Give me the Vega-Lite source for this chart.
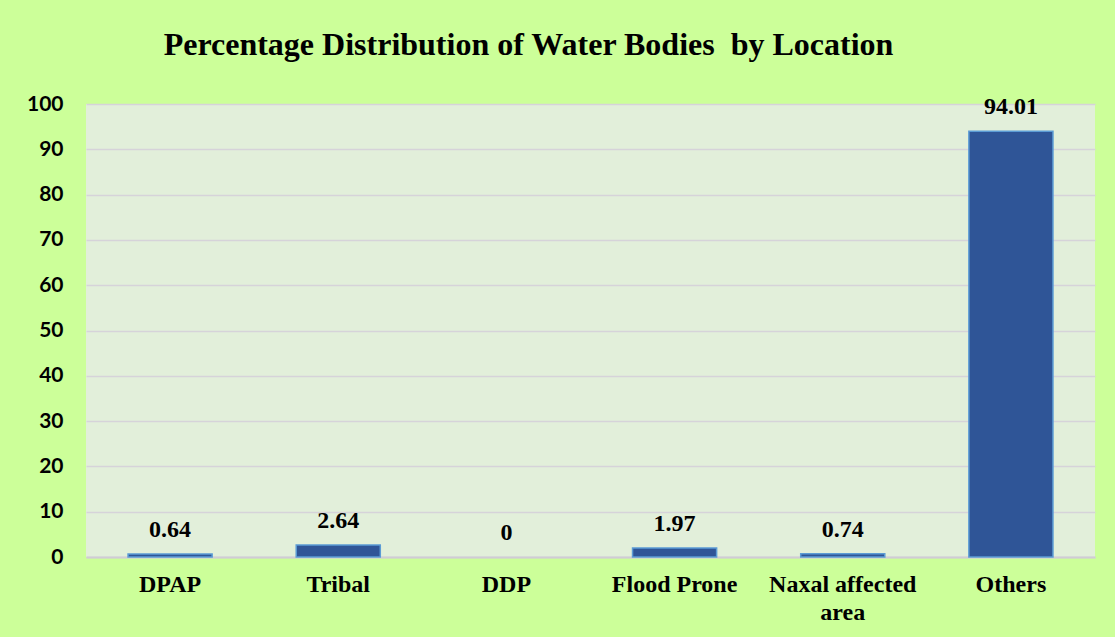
{
  "$schema": "https://vega.github.io/schema/vega-lite/v6.json",
  "autosize": {"type": "none"},
  "width": 1009,
  "height": 453,
  "padding": {"left": 86, "top": 104, "right": 20, "bottom": 80},
  "background": "#CCFF99",
  "title": {
    "text": "Percentage Distribution of Water Bodies\u00a0\u00a0by Location",
    "font": "Liberation Serif",
    "fontSize": 32,
    "fontWeight": "bold",
    "color": "#000000",
    "anchor": "middle",
    "dx": -62,
    "offset": 31
  },
  "data": {
    "values": [
      {"location": "DPAP", "percent": 0.64},
      {"location": "Tribal", "percent": 2.64},
      {"location": "DDP", "percent": 0},
      {"location": "Flood Prone", "percent": 1.97},
      {"location": "Naxal affected area", "percent": 0.74},
      {"location": "Others", "percent": 94.01}
    ]
  },
  "encoding": {
    "x": {
      "field": "location",
      "type": "nominal",
      "sort": null,
      "scale": {"paddingInner": 0.5, "paddingOuter": 0.25},
      "axis": {
        "title": null,
        "labelAngle": 0,
        "labelFont": "Liberation Serif",
        "labelFontSize": 24,
        "labelFontWeight": "bold",
        "labelColor": "#000000",
        "labelPadding": 15,
        "labelLineHeight": 28,
        "labelExpr": "datum.label == 'Naxal affected area' ? ['Naxal affected', 'area'] : datum.label",
        "ticks": false,
        "tickSize": 0,
        "domain": true,
        "domainColor": "#D0CCD4",
        "domainWidth": 2,
        "grid": false
      }
    },
    "y": {
      "field": "percent",
      "type": "quantitative",
      "scale": {"domain": [0, 100], "nice": false},
      "axis": {
        "title": null,
        "values": [0, 10, 20, 30, 40, 50, 60, 70, 80, 90, 100],
        "labelFont": "Lato",
        "labelFontSize": 21,
        "labelFontWeight": "bold",
        "labelColor": "#000000",
        "labelPadding": 23,
        "ticks": false,
        "tickSize": 0,
        "domain": false,
        "grid": true,
        "gridColor": "#D6D3D9",
        "gridWidth": 1.5
      }
    }
  },
  "layer": [
    {
      "mark": {"type": "bar", "color": "#2F5597", "stroke": "#5B9BD5", "strokeWidth": 1.5},
      "encoding": {
        "strokeOpacity": {"condition": {"test": "datum.percent == 0", "value": 0}, "value": 1}
      }
    },
    {
      "mark": {
        "type": "text",
        "font": "Liberation Serif",
        "fontSize": 24,
        "fontWeight": "bold",
        "color": "#000000",
        "baseline": "alphabetic",
        "dy": -17
      },
      "encoding": {"text": {"field": "percent", "type": "quantitative"}}
    }
  ],
  "config": {
    "view": {"fill": "#E2EFDA", "stroke": null}
  }
}
